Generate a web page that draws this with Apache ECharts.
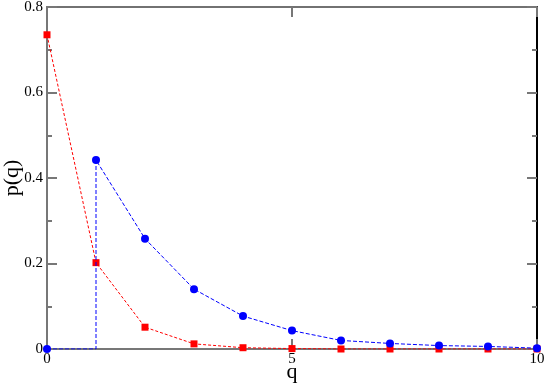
<!DOCTYPE html>
<html>
<head>
<meta charset="utf-8">
<script src="https://cdn.jsdelivr.net/npm/echarts@6/dist/echarts.min.js"></script>
<style>
  html, body { margin: 0; padding: 0; background: #fff; }
</style>
</head>
<body>
<div id="main" style="width: 545px; height: 384px"></div>
<script>
// blue series: step at q=1 (point (1,0) drawn without a symbol)
var qBlue = [0, 1, 1, 2, 3, 4, 5, 6, 7, 8, 9, 10];
var pBlue = [0, 0, 0.442, 0.258, 0.140, 0.077, 0.043, 0.020, 0.013, 0.008, 0.006, 0.002];
// red series
var qRed = [0, 1, 2, 3, 4, 5, 6, 7, 8, 9, 10];
var pRed = [0.735, 0.202, 0.051, 0.012, 0.003, 0.001, 0, 0, 0, 0, 0];

var xTicks = [0, 5, 10];
var yTicks = [0, 0.2, 0.4, 0.6, 0.8];

var font = "Liberation Serif";

var blueData = [];
for (var i = 0; i < qBlue.length; i++) {
  var item = { value: [qBlue[i], pBlue[i]] };
  if (i == 1) item.symbol = "none";
  blueData.push(item);
}
var redData = [];
for (var j = 0; j < qRed.length; j++) {
  redData.push([qRed[j], pRed[j]]);
}

var myChart = echarts.init(document.getElementById("main"));
myChart.setOption({
  animation: false,
  textStyle: { fontFamily: font },
  grid: { left: 47, right: 8, top: 7, bottom: 35, outerBoundsMode: "none" },
  xAxis: [
    {
      type: "value",
      position: "bottom",
      min: xTicks[0],
      max: xTicks[xTicks.length - 1],
      interval: 5,
      name: "q",
      nameLocation: "middle",
      nameGap: 12,
      nameMoveOverlap: false,
      nameTextStyle: { fontFamily: font, fontSize: 22, color: "#000" },
      axisLine: { onZero: false, lineStyle: { color: "#777", width: 2 } },
      axisTick: { inside: true, length: 10, lineStyle: { color: "#777", width: 2 } },
      axisLabel: { fontFamily: font, fontSize: 15, color: "#000", margin: 3 },
      splitLine: { show: false }
    },
    {
      type: "value",
      position: "top",
      min: xTicks[0],
      max: xTicks[xTicks.length - 1],
      interval: 5,
      axisLine: { onZero: false, lineStyle: { color: "#444", width: 1.5 } },
      axisTick: { inside: true, length: 10, lineStyle: { color: "#777", width: 2 } },
      axisLabel: { show: false },
      splitLine: { show: false }
    }
  ],
  yAxis: [
    {
      type: "value",
      position: "left",
      min: yTicks[0],
      max: yTicks[yTicks.length - 1],
      interval: 0.2,
      name: "p(q)",
      nameLocation: "middle",
      nameGap: 24,
      nameRotate: 90,
      nameMoveOverlap: false,
      nameTextStyle: { fontFamily: font, fontSize: 22, color: "#000" },
      axisLine: { onZero: false, lineStyle: { color: "#777", width: 2 } },
      axisTick: { inside: true, length: 10, lineStyle: { color: "#777", width: 2 } },
      minorTick: { show: true, splitNumber: 2, length: 5, lineStyle: { color: "#777", width: 2 } },
      axisLabel: { fontFamily: font, fontSize: 15, color: "#000", margin: 4 },
      splitLine: { show: false }
    },
    {
      type: "value",
      position: "right",
      min: yTicks[0],
      max: yTicks[yTicks.length - 1],
      interval: 0.2,
      axisLine: { onZero: false, lineStyle: { color: "#000", width: 2 } },
      axisTick: { inside: true, length: 10, lineStyle: { color: "#777", width: 2 } },
      minorTick: { show: true, splitNumber: 2, length: 5, lineStyle: { color: "#777", width: 2 } },
      axisLabel: { show: false },
      splitLine: { show: false }
    }
  ],
  series: [
    {
      name: "red",
      type: "line",
      data: redData,
      symbol: "rect",
      symbolSize: 7,
      itemStyle: { color: "#ff0000" },
      lineStyle: { color: "#ff0000", width: 1, type: [3, 2] },
      z: 3
    },
    {
      name: "blue",
      type: "line",
      data: blueData,
      symbol: "circle",
      symbolSize: 8,
      itemStyle: { color: "#0000ff" },
      lineStyle: { color: "#0000ff", width: 1, type: [4, 2] },
      z: 4
    }
  ]
});
</script>
</body>
</html>
